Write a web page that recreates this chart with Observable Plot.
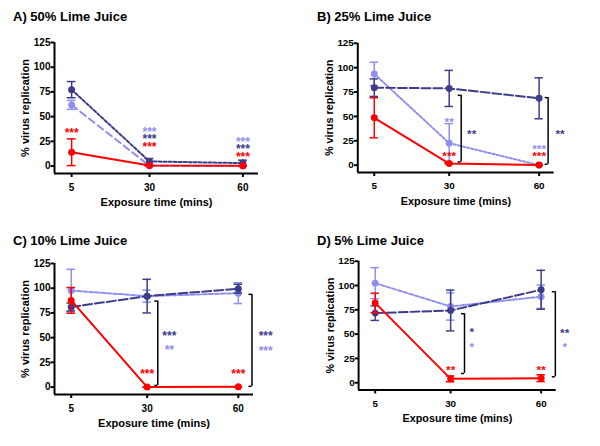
<!DOCTYPE html>
<html>
<head>
<meta charset="utf-8">
<script src="https://cdn.jsdelivr.net/npm/d3@7"></script>
<script src="https://cdn.jsdelivr.net/npm/@observablehq/plot@0.6"></script>
<style>
  body { margin: 0; background: #fff; }
  #root { position: relative; width: 600px; height: 446px; background: #fff; overflow: hidden; font-family: "Liberation Sans", Arial, sans-serif; }
  .title { position: absolute; font-size: 13px; font-weight: bold; line-height: 13px; color: #000; white-space: nowrap; }
  .panel { position: absolute; }
  .panel svg { overflow: visible; }
</style>
</head>
<body>
<div id="root"></div>
<script>
// ---- data ----
const times = [5, 30, 60];
const panelTitles = ["A) 50% Lime Juice", "B) 25% Lime Juice", "C) 10% Lime Juice", "D) 5% Lime Juice"];
const yTicks = [0, 25, 50, 75, 100, 125];
const xLabel = "Exposure time (mins)";
const yLabel = "% virus replication";

// per panel [A, B, C, D], values at 5, 30, 60 mins
const redMean   = [[14, 0.5, 0.3], [48.6, 1.7, 0.3], [87.7, 0, 0.3], [82.1, 4, 4.7]];
const redErr    = [[13.5, 0, 0], [20.5, 0, 0], [13, 0, 0], [10, 3, 3.5]];
const navyMean  = [[77.3, 4.7, 3], [79.5, 78.7, 68.6], [81, 92, 99.5], [71.6, 74.3, 95.6]];
const navyErr   = [[8.2, 3, 3], [9, 18.5, 21], [4, 17, 4.5], [7.5, 21, 20]];
const lightMean = [[61.9, 0.3, 0], [93.6, 22.6, 0], [97.6, 92, 95], [102.4, 78.4, 88.5]];
const lightErr  = [[4.5, 0.5, 0.5], [12, 20, 0.5], [21.5, 6, 10.5], [16, 14, 12]];

// significance annotations: [x, y, text, series]
const stars = [
  [[5, 36, "***", "red"], [30, 37, "***", "light"], [30, 30, "***", "navy"], [30, 22.5, "***", "red"],
   [60, 27, "***", "light"], [60, 20, "***", "navy"], [60, 12.5, "***", "red"]],
  [[30, 47, "**", "light"], [30, 11.8, "***", "red"], [60, 19.6, "***", "light"], [60, 11.8, "***", "red"],
   [37.5, 34.8, "**", "navy"], [67, 34.8, "**", "navy"]],
  [[30, 16, "***", "red"], [60, 16, "***", "red"], [37.3, 54.8, "***", "navy"], [37.3, 40.8, "**", "light"],
   [69, 54.5, "***", "navy"], [69, 39.4, "***", "light"]],
  [[30, 16.2, "**", "red"], [60, 16.2, "**", "red"], [37, 54.7, "*", "navy"], [37, 39.9, "*", "light"],
   [67.8, 54, "**", "navy"], [67.8, 39.9, "*", "light"]]
];
// brackets: [x, yTop, yBottom]
const brackets = [
  [],
  [[34, 71.6, 3.4], [63, 69.3, 1]],
  [[33.5, 87, 1.7], [64.5, 93.8, 0.7]],
  [[34.6, 71, 9.5], [64.7, 93.6, 6.1]]
];

// ---- styles / layout ----
const colors = {red: "#ff0000", navy: "#3c3c8a", light: "#8f8ff0"};
const dashes = [
  {navy: "3,2", light: "7,4"},
  {navy: "9,3", light: "2.5,2"},
  {navy: "9,3", light: "4,2"},
  {navy: "9,3", light: "4,2"}
];
const layout = [
  {left: 0, top: 25, mr: 42, tx: 13, ty: 10},
  {left: 304, top: 26, mr: 47, tx: 317, ty: 10},
  {left: 0, top: 246, mr: 47, tx: 13, ty: 234},
  {left: 305, top: 244, mr: 45, tx: 317, ty: 234}
];
const XMIN = -0.5, XMAX = 65, YMIN = -7.5, YMAX = 125;

const root = document.getElementById("root");

panelTitles.forEach((title, p) => {
  const L = layout[p];
  const series = {red: [redMean[p], redErr[p]], navy: [navyMean[p], navyErr[p]], light: [lightMean[p], lightErr[p]]};
  const order = ["light", "navy", "red"];
  const marks = [];
  // axis lines
  marks.push(Plot.ruleX([XMIN], {y1: YMIN, y2: YMAX, stroke: "#000", strokeWidth: 2}));
  marks.push(Plot.ruleY([YMIN], {x1: XMIN, x2: XMAX, stroke: "#000", strokeWidth: 2}));
  marks.push(Plot.axisY({ticks: yTicks, tickSize: 3.5, tickPadding: 0.5, label: null, fontWeight: "bold", fontSize: 10, strokeWidth: 2}));
  marks.push(Plot.axisX({ticks: times, tickSize: 4, tickPadding: 6, label: null, fontWeight: "bold", fontSize: 10, strokeWidth: 2}));
  for (const s of order) {
    const [m, e] = series[s];
    const rows = times.map((t, i) => ({time: t, mean: m[i], err: e[i]}));
    marks.push(Plot.line(rows, {x: "time", y: "mean", stroke: colors[s], strokeWidth: 2, strokeDasharray: s === "red" ? null : dashes[p][s]}));
    marks.push(Plot.ruleX(rows, {x: "time", y1: d => d.mean - d.err, y2: d => d.mean + d.err, stroke: colors[s], strokeWidth: 1.5}));
    marks.push(Plot.ruleY(rows, {y: d => d.mean + d.err, x1: d => d.time - 1.4, x2: d => d.time + 1.4, stroke: colors[s], strokeWidth: 1.5}));
    marks.push(Plot.ruleY(rows, {y: d => d.mean - d.err, x1: d => d.time - 1.4, x2: d => d.time + 1.4, stroke: colors[s], strokeWidth: 1.5}));
    marks.push(Plot.dot(rows, {x: "time", y: "mean", r: 3.5, fill: colors[s], stroke: "none"}));
  }
  // brackets
  const br = brackets[p].map(([x, y1, y2]) => ({x, y1, y2}));
  marks.push(Plot.ruleX(br, {x: "x", y1: "y1", y2: "y2", stroke: "#000", strokeWidth: 1.5}));
  marks.push(Plot.ruleY(br, {y: "y1", x1: d => d.x - 1, x2: "x", stroke: "#000", strokeWidth: 1.5}));
  marks.push(Plot.ruleY(br, {y: "y2", x1: d => d.x - 1, x2: "x", stroke: "#000", strokeWidth: 1.5}));
  // stars
  const st = stars[p].map(([x, y, text, s]) => ({x, y, text, s}));
  marks.push(Plot.text(st, {x: "x", y: "y", text: "text", fill: d => colors[d.s], fontSize: 12, fontWeight: "bold", dy: 3}));
  // axis titles
  marks.push(Plot.text([yLabel], {frameAnchor: "left", textAnchor: "middle", lineAnchor: "middle", text: d => d, rotate: -90, dx: -29, fontSize: 11, fontWeight: "bold", fill: "#000"}));
  marks.push(Plot.text([xLabel], {frameAnchor: "bottom", textAnchor: "middle", lineAnchor: "middle", text: d => d, dy: 29, fontSize: 11, fontWeight: "bold", fill: "#000"}));

  const chart = Plot.plot({
    width: 300,
    height: 190,
    marginLeft: 54,
    marginRight: L.mr,
    marginTop: 17,
    marginBottom: 42,
    x: {domain: [XMIN, XMAX], axis: null},
    y: {domain: [YMIN, YMAX], axis: null},
    style: {fontFamily: "'Liberation Sans', Arial, sans-serif", background: "transparent", color: "#000", overflow: "visible"},
    marks
  });
  const div = document.createElement("div");
  div.className = "panel";
  div.style.left = L.left + "px";
  div.style.top = L.top + "px";
  div.appendChild(chart);
  root.appendChild(div);

  const t = document.createElement("div");
  t.className = "title";
  t.style.left = L.tx + "px";
  t.style.top = L.ty + "px";
  t.textContent = title;
  root.appendChild(t);
});
</script>
</body>
</html>
